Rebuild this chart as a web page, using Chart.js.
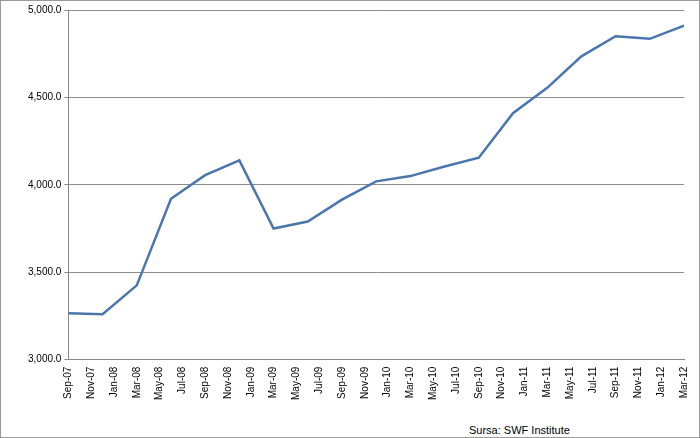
<!DOCTYPE html>
<html><head><meta charset="utf-8">
<script src="https://cdn.jsdelivr.net/npm/chart.js@4"></script>
<style>
html,body{margin:0;padding:0;background:#fff;}
#wrap{position:relative;width:698px;height:436px;border:1px solid #9a9a9a;}
#src{position:absolute;left:468px;top:423px;font:11px "Liberation Sans",Arial,sans-serif;color:#000;}
</style></head><body>
<div id="wrap"><canvas id="c" width="698" height="402"></canvas><div id="src">Sursa: SWF Institute</div></div>
<script>
const tickLabels=["Sep-07","Nov-07","Jan-08","Mar-08","May-08","Jul-08","Sep-08","Nov-08","Jan-09","Mar-09","May-09","Jul-09","Sep-09","Nov-09","Jan-10","Mar-10","May-10","Jul-10","Sep-10","Nov-10","Jan-11","Mar-11","May-11","Jul-11","Sep-11","Nov-11","Jan-12","Mar-12"];
const monthOffsets=[0,3,6,9,12,15,18,21,24,27,30,33,36,39,42,45,48,51,54];
const values=[3265,3260,3425,3920,4055,4140,3750,3790,3915,4020,4050,4105,4155,4410,4555,4735,4850,4835,4910];
const points=monthOffsets.map((m,i)=>({x:m,y:values[i]}));
new Chart(document.getElementById('c'),{
 type:'line',
 data:{datasets:[{data:points,borderColor:'#4a76ae',borderWidth:2.5,pointRadius:0,tension:0,fill:false}]},
 options:{responsive:false,animation:false,
  layout:{padding:{left:24,right:14,top:0,bottom:0}},
  plugins:{legend:{display:false},tooltip:{enabled:false}},
  scales:{
   x:{type:'linear',min:0,max:54,
      grid:{display:false,drawTicks:true,tickLength:4},border:{color:'#888'},
      ticks:{stepSize:2,autoSkip:false,minRotation:90,maxRotation:90,color:'#000',font:{family:'Liberation Sans',size:10},
        callback:(v)=>tickLabels[v/2]}},
   y:{min:3000,max:5000,
      grid:{color:'#8c8c8c',tickLength:4},border:{color:'#888'},
      ticks:{stepSize:500,color:'#000',font:{family:'Liberation Sans',size:10},
        callback:(v)=>v.toLocaleString('en-US',{minimumFractionDigits:1,maximumFractionDigits:1})}}
  }}
});
</script></body></html>
